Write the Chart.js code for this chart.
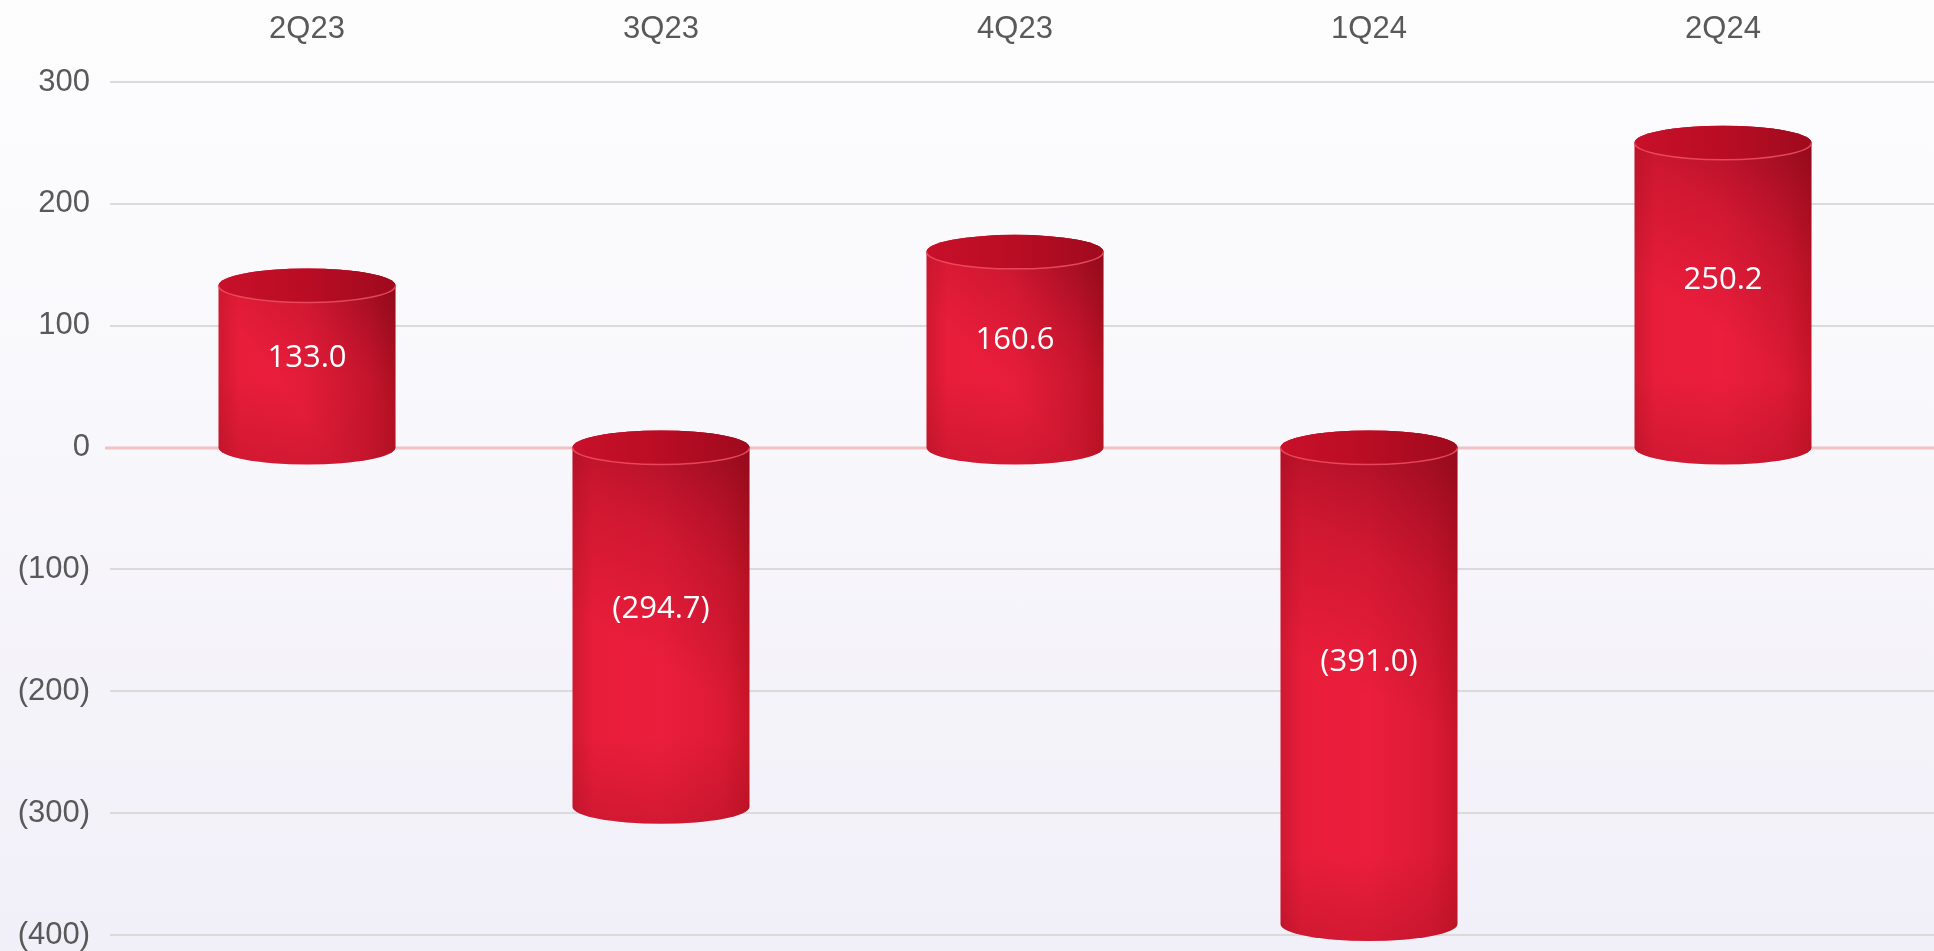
<!DOCTYPE html>
<html>
<head>
<meta charset="utf-8">
<script src="https://cdn.jsdelivr.net/npm/chart.js@4/dist/chart.umd.min.js"></script>
<style>
  html, body { margin: 0; padding: 0; }
  body { background: linear-gradient(180deg, #fdfdfe 0%, #f8f7fb 45%, #f1eff8 100%); }
  #wrap { width: 1934px; height: 951px; position: relative; }
</style>
</head>
<body>
<div id="wrap"><canvas id="chart"></canvas></div>
<script>
// ---- data ----
const quarters = ["2Q23", "3Q23", "4Q23", "1Q24", "2Q24"];
const values = [133.0, -294.7, 160.6, -391.0, 250.2];
const yTicks = [300, 200, 100, 0, -100, -200, -300, -400];

const fmt = (v, d) => v < 0 ? "(" + Math.abs(v).toFixed(d) + ")" : v.toFixed(d);

// ---- grid lines + zero line, wider than the chart area ----
const gridPlugin = {
  id: "gridLines",
  beforeDatasetsDraw(chart) {
    const ctx = chart.ctx;
    const y = chart.scales.y;
    ctx.save();
    y.ticks.forEach(t => {
      if (t.value === 0) return;
      const py = Math.round(y.getPixelForValue(t.value));
      ctx.strokeStyle = "#dadada";
      ctx.lineWidth = 2;
      ctx.beginPath();
      ctx.moveTo(110, py);
      ctx.lineTo(chart.width, py);
      ctx.stroke();
    });
    const zy = Math.round(y.getPixelForValue(0));
    ctx.strokeStyle = "#f0c2c6";
    ctx.lineWidth = 3;
    ctx.beginPath();
    ctx.moveTo(105, zy);
    ctx.lineTo(chart.width, zy);
    ctx.stroke();
    ctx.restore();
  }
};

// ---- cylinders drawn on top of the (invisible) bars ----
function bodyPath(ctx, x, top, bottom, rx, ry) {
  ctx.beginPath();
  ctx.moveTo(x - rx, top);
  ctx.lineTo(x - rx, bottom);
  ctx.ellipse(x, bottom, rx, ry, 0, Math.PI, 0, true);
  ctx.lineTo(x + rx, top);
  ctx.ellipse(x, top, rx, ry, 0, 0, Math.PI, true);
  ctx.closePath();
}

const cylinderPlugin = {
  id: "cylinders",
  afterDatasetsDraw(chart) {
    const ctx = chart.ctx;
    const meta = chart.getDatasetMeta(0);
    meta.data.forEach((bar, i) => {
      const x = bar.x;
      const rx = bar.width / 2;
      const ry = 17;
      const top = Math.min(bar.y, bar.base);
      const bottom = Math.max(bar.y, bar.base);
      const h = bottom - top;
      ctx.save();

      // body
      bodyPath(ctx, x, top, bottom, rx, ry);
      let g = ctx.createLinearGradient(x - rx, 0, x + rx, 0);
      g.addColorStop(0, "#d01831");
      g.addColorStop(0.12, "#e81d3a");
      g.addColorStop(0.5, "#eb1e3c");
      g.addColorStop(0.85, "#dc1a36");
      g.addColorStop(1, "#c91529");
      ctx.fillStyle = g;
      ctx.fill();

      // dark shading upper right
      ctx.save();
      bodyPath(ctx, x, top, bottom, rx, ry);
      ctx.clip();
      const depth = Math.min(h * 0.55, 230);
      let s = ctx.createLinearGradient(x + rx * 0.9, top, x - rx * 0.4, top + depth);
      s.addColorStop(0, "rgba(120,5,20,0.65)");
      s.addColorStop(0.5, "rgba(130,5,20,0.25)");
      s.addColorStop(1, "rgba(130,5,20,0)");
      ctx.fillStyle = s;
      ctx.fillRect(x - rx, top - ry, rx * 2, h + ry * 2);
      // slight darkening near the base
      let b = ctx.createLinearGradient(0, bottom - 70, 0, bottom + ry);
      b.addColorStop(0, "rgba(140,10,25,0)");
      b.addColorStop(1, "rgba(140,10,25,0.25)");
      ctx.fillStyle = b;
      ctx.fillRect(x - rx, bottom - 70, rx * 2, 70 + ry);
      ctx.restore();

      // top face
      ctx.beginPath();
      ctx.ellipse(x, top, rx, ry, 0, 0, Math.PI * 2);
      let tg = ctx.createLinearGradient(x - rx, 0, x + rx, 0);
      tg.addColorStop(0, "#c8102a");
      tg.addColorStop(0.5, "#b90d24");
      tg.addColorStop(1, "#9f0a1d");
      ctx.fillStyle = tg;
      ctx.fill();
      // front rim
      ctx.beginPath();
      ctx.ellipse(x, top, rx, ry, 0, 0, Math.PI, false);
      ctx.strokeStyle = "rgba(240,80,100,0.85)";
      ctx.lineWidth = 1.5;
      ctx.stroke();

      // value label
      ctx.fillStyle = "#ffffff";
      ctx.font = "31px 'Open Sans', 'Noto Sans', sans-serif";
      ctx.textAlign = "center";
      ctx.textBaseline = "middle";
      ctx.fillText(fmt(values[i], 1), x, top + h * 0.45);
      ctx.restore();
    });
  }
};

const ctx = document.getElementById("chart");
const chart = new Chart(ctx, {
  type: "bar",
  data: {
    labels: quarters,
    datasets: [{
      data: values,
      backgroundColor: "rgba(0,0,0,0)",
      borderWidth: 0,
      barPercentage: 0.5,
      categoryPercentage: 1
    }]
  },
  options: {
    responsive: true,
    maintainAspectRatio: false,
    animation: false,
    layout: { padding: { top: 0, right: 34, bottom: 16, left: 0 } },
    plugins: { legend: { display: false }, tooltip: { enabled: false } },
    scales: {
      x: {
        position: "top",
        grid: { display: false, drawTicks: false },
        border: { display: false },
        ticks: {
          color: "#595959",
          font: { family: "'Liberation Sans', Arial, sans-serif", size: 31 },
          padding: 34
        },
        afterFit(scale) { scale.height = 82; }
      },
      y: {
        min: Math.min(...yTicks),
        max: Math.max(...yTicks),
        // tick marks are hidden; their length only spaces the labels off the plot
        grid: { display: false, drawTicks: true, tickLength: 40 },
        border: { display: false },
        ticks: {
          stepSize: 100,
          color: "#595959",
          font: { family: "'Liberation Sans', Arial, sans-serif", size: 31, lineHeight: 1 },
          padding: 0,
          callback: v => fmt(v, 0)
        },
        afterFit(scale) { scale.width = 130; }
      }
    }
  },
  plugins: [gridPlugin, cylinderPlugin]
});
</script>
</body>
</html>
